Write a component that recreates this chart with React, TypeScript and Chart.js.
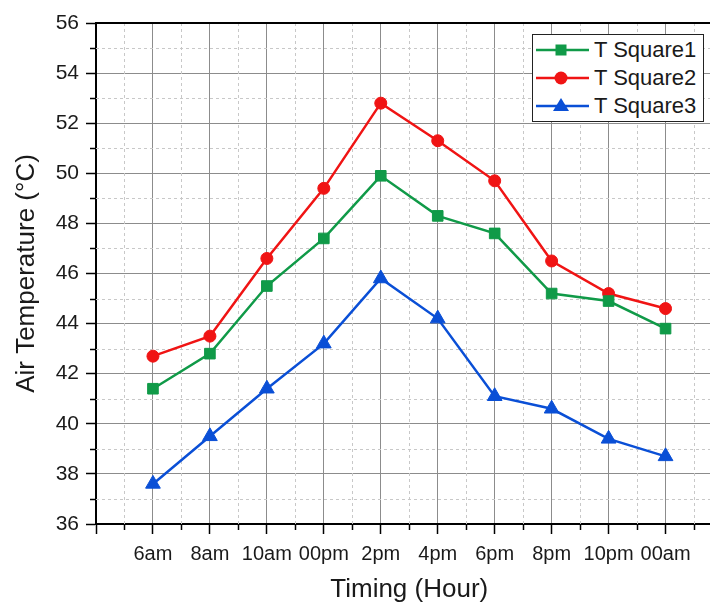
import { useEffect, useRef } from "react";
import { Chart, registerables, Plugin } from "chart.js";

Chart.register(...registerables);

const timings = ['6am', '8am', '10am', '00pm', '2pm', '4pm', '6pm', '8pm', '10pm', '00am'];
const tSquare1 = [41.4, 42.8, 45.5, 47.4, 49.9, 48.3, 47.6, 45.2, 44.9, 43.8];
const tSquare2 = [42.7, 43.5, 46.6, 49.4, 52.8, 51.3, 49.7, 46.5, 45.2, 44.6];
const tSquare3 = [37.6, 39.5, 41.4, 43.2, 45.8, 44.2, 41.1, 40.6, 39.4, 38.7];

const GREEN = '#109a48';
const RED = '#f01414';
const BLUE = '#0a4fd6';
const FONT = '"Liberation Sans", Arial, sans-serif';

const series = [
  { label: 'T Square1', values: tSquare1, color: GREEN, style: 'rect', radius: 7.5 },
  { label: 'T Square2', values: tSquare2, color: RED, style: 'circle', radius: 6 },
  { label: 'T Square3', values: tSquare3, color: BLUE, style: 'triangle', radius: 8.5 },
];

// dashed minor grid, minor tick marks and the top frame line
const minorGrid: Plugin = {
  id: 'minorGrid',
  beforeDatasetsDraw(chart) {
    const { ctx, chartArea: a } = chart;
    const xs = chart.scales.x;
    const ys = chart.scales.y;
    ctx.save();
    ctx.lineWidth = 1;
    ctx.strokeStyle = '#c8c8c8';
    ctx.setLineDash([3, 3]);
    for (let v = ys.min + 1; v < ys.max; v += 2) {
      const py = Math.round(ys.getPixelForValue(v)) + 0.5;
      ctx.beginPath();
      ctx.moveTo(a.left, py);
      ctx.lineTo(a.right, py);
      ctx.stroke();
    }
    for (let v = xs.min + 0.5; v <= xs.max; v += 1) {
      const px = Math.round(xs.getPixelForValue(v)) + 0.5;
      ctx.beginPath();
      ctx.moveTo(px, a.top);
      ctx.lineTo(px, a.bottom);
      ctx.stroke();
    }
    ctx.setLineDash([]);
    ctx.strokeStyle = '#000';
    ctx.lineWidth = 1.5;
    for (let v = ys.min + 1; v < ys.max; v += 2) {
      const py = Math.round(ys.getPixelForValue(v)) + 0.5;
      ctx.beginPath();
      ctx.moveTo(a.left - 6, py);
      ctx.lineTo(a.left, py);
      ctx.stroke();
    }
    for (let v = xs.min + 0.5; v <= xs.max; v += 1) {
      const px = Math.round(xs.getPixelForValue(v)) + 0.5;
      ctx.beginPath();
      ctx.moveTo(px, a.bottom);
      ctx.lineTo(px, a.bottom + 6);
      ctx.stroke();
    }
    ctx.lineWidth = 2;
    ctx.beginPath();
    ctx.moveTo(a.left - 1, a.top);
    ctx.lineTo(a.right, a.top);
    ctx.stroke();
    ctx.restore();
  },
};

function LegendMarker({ style, color }: { style: string; color: string }) {
  return (
    <svg width={56} height={28} style={{ display: 'block' }}>
      <line x1={3} y1={14} x2={56} y2={14} stroke={color} strokeWidth={2.5} />
      {style === 'rect' && <rect x={22.5} y={8.5} width={11} height={11} fill={color} />}
      {style === 'circle' && <circle cx={28} cy={14} r={6.5} fill={color} />}
      {style === 'triangle' && <polygon points="28,6 36,19 20,19" fill={color} />}
    </svg>
  );
}

export default function App() {
  const canvasRef = useRef<HTMLCanvasElement>(null);
  const chartRef = useRef<Chart | null>(null);

  useEffect(() => {
    if (!canvasRef.current) return;
    if (chartRef.current) chartRef.current.destroy();

    chartRef.current = new Chart(canvasRef.current, {
      type: 'line',
      data: {
        datasets: series.map(s => ({
          label: s.label,
          data: s.values.map((y, i) => ({ x: i, y })),
          borderColor: s.color,
          backgroundColor: s.color,
          borderWidth: 2.5,
          pointStyle: s.style as any,
          pointRadius: s.radius,
          pointBorderWidth: 1,
          tension: 0,
        })),
      },
      options: {
        responsive: false,
        animation: false,
        layout: { padding: { top: 23, left: 0, right: 0, bottom: 0 } },
        plugins: {
          legend: { display: false },
          tooltip: { enabled: false },
        },
        scales: {
          x: {
            type: 'linear',
            min: -1,
            max: 10,
            afterFit: (scale: any) => {
              scale.height = 79;
              scale.paddingLeft = 0;
              scale.paddingRight = 0;
            },
            border: { display: true, color: '#000', width: 2 },
            grid: { color: '#8c8c8c', lineWidth: 1, tickColor: '#000', tickLength: 10, tickWidth: 1.5 },
            ticks: {
              stepSize: 1,
              autoSkip: false,
              maxRotation: 0,
              padding: 8,
              color: '#1a1a1a',
              font: { family: FONT, size: 20 },
              callback: (v: any) => timings[v] ?? '',
            },
            title: {
              display: true,
              text: 'Timing (Hour)',
              color: '#1a1a1a',
              font: { family: FONT, size: 26, lineHeight: 1 },
              padding: { top: 0, bottom: 0 },
            },
          },
          y: {
            type: 'linear',
            min: 36,
            max: 56,
            afterFit: (scale: any) => { scale.width = 96; },
            border: { display: true, color: '#000', width: 2 },
            grid: { color: '#8c8c8c', lineWidth: 1, tickColor: '#000', tickLength: 10, tickWidth: 1.5 },
            ticks: {
              stepSize: 2,
              padding: 7,
              color: '#1a1a1a',
              font: { family: FONT, size: 21 },
            },
            title: {
              display: true,
              text: 'Air Temperature (°C)',
              color: '#1a1a1a',
              font: { family: FONT, size: 26, lineHeight: 1.2 },
              padding: { top: 11, bottom: 0 },
            },
          },
        },
      },
      plugins: [minorGrid],
    });

    return () => {
      if (chartRef.current) {
        chartRef.current.destroy();
        chartRef.current = null;
      }
    };
  }, []);

  return (
    <div style={{ position: 'absolute', left: 0, top: 0, width: 710, height: 603, background: '#fff', overflow: 'hidden' }}>
      <canvas ref={canvasRef} width={732} height={603} />
      <div
        style={{
          position: 'absolute',
          left: 532,
          top: 34,
          width: 170,
          height: 85,
          border: '1px solid #222',
          background: '#fff',
          paddingTop: 1,
          fontFamily: FONT,
          fontSize: 22,
          color: '#1a1a1a',
        }}
      >
        {series.map(s => (
          <div key={s.label} style={{ display: 'flex', alignItems: 'center', height: 28 }}>
            <LegendMarker style={s.style} color={s.color} />
            <span style={{ marginLeft: 5, whiteSpace: 'nowrap' }}>{s.label}</span>
          </div>
        ))}
      </div>
    </div>
  );
}
